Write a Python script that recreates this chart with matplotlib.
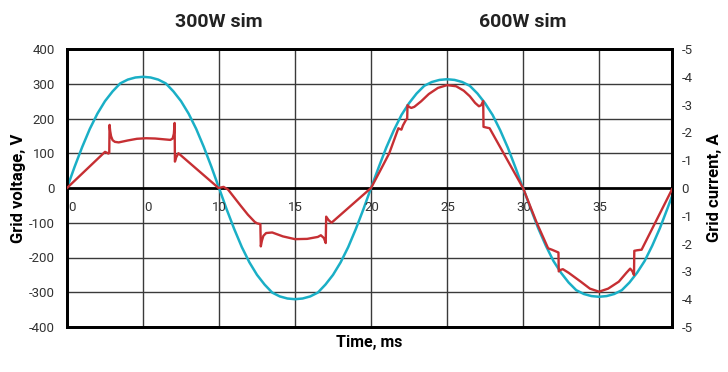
import numpy as np
import matplotlib
matplotlib.use("Agg")
import matplotlib.pyplot as plt
import matplotlib.transforms as mtransforms

plt.rcParams["font.family"] = ["Roboto", "DejaVu Sans"]

# grid voltage, sampled every 0.5 ms from 0 to 40 ms
VOLT_T = np.arange(0, 40.01, 0.5)
VOLT_300W = [0, 61, 118, 170, 214, 250, 278, 301, 312, 318, 320, 318, 312, 301, 278, 250, 214, 170, 118, 61,
             0, -61, -118, -170, -214, -250, -278, -301, -312, -318, -320, -318, -312, -301, -278, -250, -214, -170, -118, -61]
VOLT_600W = [0, 59, 116, 166, 210, 244, 272, 294, 305, 311, 313, 311, 305, 294, 272, 244, 210, 166, 116, 59,
             0, -59, -116, -166, -210, -244, -272, -294, -305, -311, -313, -311, -305, -294, -272, -244, -210, -166, -116, -59,
             0]
VOLTS = VOLT_300W + VOLT_600W

# grid current (A)
CUR_T = [0.0, 2.5, 2.62, 2.72, 2.78, 2.80, 2.84, 2.90, 3.0, 3.15, 3.4, 4.0, 4.6, 5.2, 5.8, 6.4, 6.8,
         6.95, 7.03, 7.08, 7.10, 7.18, 7.33, 9.97, 10.3, 10.6, 10.9, 11.4, 11.9, 12.35, 12.5, 12.72,
         12.75, 12.82, 12.92, 13.1, 13.5, 14.2, 15.0, 15.8, 16.5, 16.7, 16.9, 17.02, 17.05, 17.2, 17.4,
         20.0, 20.6, 21.2, 21.8, 21.9, 22.0, 22.1, 22.3, 22.38, 22.40, 22.5, 22.65, 22.85, 23.3, 23.8,
         24.4, 25.0, 25.6, 26.1, 26.5, 26.85, 27.1, 27.25, 27.38, 27.40, 27.55, 27.8, 30.0, 30.9, 31.65,
         31.9, 32.2, 32.33, 32.35, 32.45, 32.62, 33.0, 33.8, 34.4, 35.0, 35.6, 36.3, 36.8, 37.05, 37.2,
         37.3, 37.32, 37.5, 37.8, 39.8]
CUR_A = [0.0, 1.30, 1.27, 1.24, 1.26, 2.27, 2.05, 1.86, 1.72, 1.66, 1.64, 1.71, 1.77, 1.79, 1.78, 1.75, 1.73,
         1.78, 1.95, 2.34, 0.95, 1.10, 1.25, 0.0, 0.04, -0.06, -0.27, -0.62, -0.96, -1.22, -1.27, -1.30,
         -2.10, -1.90, -1.72, -1.62, -1.60, -1.74, -1.84, -1.83, -1.76, -1.70, -1.80, -1.98, -1.03, -1.15, -1.25,
         0.0, 0.62, 1.25, 2.15, 2.12, 2.10, 2.25, 2.45, 2.50, 2.98, 2.92, 2.88, 2.92, 3.12, 3.38,
         3.60, 3.70, 3.66, 3.50, 3.30, 3.06, 2.94, 2.98, 3.13, 2.20, 2.18, 2.15, 0.0, -1.25, -2.17,
         -2.22, -2.29, -2.32, -3.0, -2.95, -2.92, -3.05, -3.37, -3.62, -3.73, -3.62, -3.37, -3.05, -2.90, -3.0,
         -3.13, -2.26, -2.24, -2.22, -0.05]

X_TICKS = [0, 5, 10, 15, 20, 25, 30, 35]
X_LABELS = ["0", "0", "10", "15", "20", "25", "30", "35"]
V_TICKS = list(range(-400, 401, 100))
I_TICKS = list(range(-5, 6))
I_LABELS = ["0" if v == 0 else f"-{abs(v)}" for v in I_TICKS]
TITLES = [(10, "300W sim"), (30, "600W sim")]

BLUE = "#1aafc6"
RED = "#c62f33"
GRID = "#3a3a3a"
TXT = "#333333"

fig = plt.figure(figsize=(7.28, 3.72), dpi=100)
ax = fig.add_axes([67 / 728, 45 / 372, 605 / 728, 278 / 372])

ax.set_xlim(0, 39.8)
ax.set_ylim(-400, 400)
for x in X_TICKS[1:]:
    ax.axvline(x, color=GRID, lw=1.0, zorder=1)
for y in V_TICKS[1:-1]:
    ax.axhline(y, color="black" if y == 0 else GRID, lw=2.0 if y == 0 else 1.0, zorder=1)

ax.plot(VOLT_T, VOLTS, color=BLUE, lw=1.8, zorder=3)

ax.set_xticks([])
ax.set_yticks(V_TICKS)
ax.set_yticklabels([str(v) for v in V_TICKS])
ax.tick_params(axis="y", length=0, pad=8.5, labelsize=9.5, labelcolor=TXT)
for s in ax.spines.values():
    s.set_linewidth(2.0)
    s.set_color("black")

for x, lab in zip(X_TICKS, X_LABELS):
    xo = x + 0.35 if len(lab) == 1 else x + 0.05
    ax.text(xo, -55, lab, ha="center", va="center", fontsize=9.5, color=TXT, zorder=4)

ax2 = ax.twinx()
ax2.set_ylim(-5, 5)
ax2.plot(CUR_T, CUR_A, color=RED, lw=1.7, zorder=4)
ax2.set_yticks(I_TICKS)
ax2.set_yticklabels(I_LABELS)
ax2.tick_params(axis="y", length=0, pad=7, labelsize=9.5, labelcolor=TXT)
for s in ax2.spines.values():
    s.set_linewidth(2.0)

ax.set_ylabel("Grid voltage, V", fontsize=12, fontweight="bold")
ax.yaxis.set_label_coords(-0.068, 0.5)
ax2.set_ylabel("Grid current, A", fontsize=12, fontweight="bold", rotation=90)
ax2.yaxis.set_label_coords(1.058, 0.5)
ax.set_xlabel("Time, ms", fontsize=11.5, fontweight="bold", labelpad=6)

trans = mtransforms.blended_transform_factory(ax.transData, ax.transAxes)
for x, lab in TITLES:
    ax.text(x, 1.097, lab, transform=trans, ha="center", va="center",
            fontsize=14, fontweight="bold", color="#222222")

fig.savefig("out.png", dpi=100)
